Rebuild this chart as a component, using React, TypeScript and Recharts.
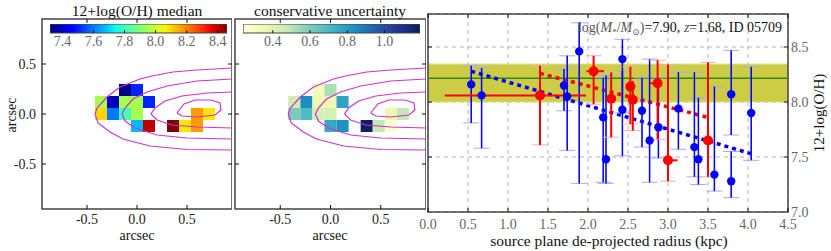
import React from "react";
import {
  ComposedChart,
  XAxis,
  YAxis,
  Scatter,
  ErrorBar,
  ReferenceArea,
  ReferenceLine,
  CartesianGrid,
} from "recharts";

const FONT = '"Liberation Serif", "DejaVu Serif", serif';

// source-plane pixels (cell centres, arcsec)
const cellX = [-0.12, 0.0, -0.36, -0.24, -0.12, 0.0, 0.12, -0.36, -0.24, -0.12, 0.0, 0.6, 0.72, 0.0, 0.12, 0.36, 0.48, 0.6];
const cellY = [0.24, 0.24, 0.12, 0.12, 0.12, 0.12, 0.12, 0, 0, 0, 0, 0, 0, -0.12, -0.12, -0.12, -0.12, -0.12];
const medianOH = [7.33, 7.5, 7.95, 7.38, 7.95, 7.95, 7.5, 8.1, 7.6, 7.81, 7.95, 8.17, 8.08, 7.67, 8.4, 8.46, 8.08, 8.17];
const uncertainty = [0.33, 0.52, 0.45, 0.84, 0.36, 0.35, 0.77, 0.6, 0.69, 0.43, 0.43, 0.36, 0.48, 0.76, 0.83, 1.17, 0.48, 0.27];
const cellSize = 0.12;

// continuum contours (arcsec)
const contour1X = [0.4, 0.47, 0.58, 0.74, 0.83, 0.84, 0.78, 0.6, 0.45, 0.4];
const contour1Y = [0.01, 0.1, 0.14, 0.14, 0.11, 0.04, -0.01, -0.03, -0.02, 0.01];
const contour2X = [0.95, 0.7, 0.45, 0.28, 0.18, 0.14, 0.2, 0.35, 0.6, 0.95];
const contour2Y = [0.22, 0.21, 0.18, 0.13, 0.06, 0.0, -0.06, -0.11, -0.13, -0.14];
const contour3X = [0.95, 0.6, 0.3, 0.1, -0.04, -0.12, -0.15, -0.12, -0.02, 0.2, 0.5, 0.95];
const contour3Y = [0.35, 0.33, 0.28, 0.22, 0.15, 0.06, 0.0, -0.07, -0.14, -0.21, -0.24, -0.25];
const contour4X = [0.95, 0.6, 0.36, 0.15, 0.03, -0.17, -0.3, -0.4, -0.42, -0.39, -0.27, -0.14, 0.13, 0.5, 0.95];
const contour4Y = [0.46, 0.44, 0.42, 0.38, 0.35, 0.27, 0.17, 0.06, 0.0, -0.09, -0.18, -0.25, -0.32, -0.355, -0.36];

const mapDomain = [-0.95, 0.95];
const mapTicks = [-0.5, 0, 0.5];
const ohBarTicks = [7.4, 7.6, 7.8, 8.0, 8.2, 8.4];
const uncBarTicks = [0.4, 0.6, 0.8, 1.0];
const ohRange = [7.32, 8.46];
const uncRange = [0.24, 1.19];

// radial gradient panel
const blueRadius = [0.54, 0.67, 1.7, 1.74, 1.89, 2.19, 2.225, 2.43, 2.43, 2.675, 2.77, 2.88, 3.13, 3.33, 3.38, 3.58, 3.79, 3.79, 4.04];
const blueOH = [8.16, 8.06, 8.15, 8.05, 8.46, 7.86, 7.48, 8.39, 7.93, 7.92, 7.65, 7.77, 7.94, 7.59, 7.48, 7.34, 8.07, 7.28, 7.9];
const blueOHLow = [7.81, 7.58, 7.92, 7.56, 7.26, 7.27, 7.26, 7.9, 7.51, 7.59, 7.27, 7.49, 7.57, 7.32, 7.25, 7.19, 7.7, 7.13, 7.47];
const blueOHHigh = [8.33, 8.31, 8.3, 8.42, 8.72, 8.22, 8.24, 8.57, 8.28, 8.22, 8.39, 8.22, 8.27, 8.27, 8.04, 8.14, 8.47, 7.55, 8.32];

const redRadius = [1.4, 2.07, 2.29, 2.53, 2.56, 2.87, 3.0, 3.5];
const redOH = [8.06, 8.28, 8.03, 8.14, 8.02, 8.17, 7.47, 7.65];
const redOHLow = [7.61, 7.98, 7.68, 7.8, 7.74, 7.66, 7.28, 7.32];
const redOHHigh = [8.33, 8.42, 8.27, 8.32, 8.19, 8.38, 8.34, 8.36];
const redRadiusLow = [0.21, 1.98, 2.29, 2.53, 2.56, 2.775, 2.94, 3.5];
const redRadiusHigh = [1.975, 2.2, 2.29, 2.53, 2.56, 2.87, 3.12, 3.5];

const blueFitR = [0.54, 4.04];
const blueFitOH = [8.28, 7.53];
const redFitR = [1.4, 3.5];
const redFitOH = [8.26, 7.86];

const integratedOH = 8.215;
const integratedLow = 8.0;
const integratedHigh = 8.345;

const radiusDomain = [0, 4.5];
const ohDomain = [7.0, 8.8];
const radiusTicks = [0, 0.5, 1, 1.5, 2, 2.5, 3, 3.5, 4, 4.5];
const ohTicks = [7.0, 7.5, 8.0, 8.5];

// colormaps
type Seg = [number, number][];
const jetR: Seg = [[0, 0], [0.35, 0], [0.66, 1], [0.89, 1], [1, 0.5]];
const jetG: Seg = [[0, 0], [0.125, 0], [0.375, 1], [0.64, 1], [0.91, 0], [1, 0]];
const jetB: Seg = [[0, 0.5], [0.11, 1], [0.34, 1], [0.65, 0], [1, 0]];

function seg(s: Seg, t: number) {
  for (let i = 1; i < s.length; i++) {
    if (t <= s[i][0]) {
      const f = (t - s[i - 1][0]) / (s[i][0] - s[i - 1][0]);
      return s[i - 1][1] + f * (s[i][1] - s[i - 1][1]);
    }
  }
  return s[s.length - 1][1];
}

function jet(t: number) {
  t = Math.max(0, Math.min(1, t));
  const c = [jetR, jetG, jetB].map((s) => Math.round(seg(s, t) * 255));
  return `rgb(${c[0]},${c[1]},${c[2]})`;
}

const ylgnbuHex = ["#ffffd9", "#edf8b1", "#c7e9b4", "#7fcdbb", "#41b6c4", "#1d91c0", "#225ea8", "#253494", "#081d58"];
function ylgnbu(t: number) {
  t = Math.max(0, Math.min(1, t));
  const p = t * (ylgnbuHex.length - 1);
  const i = Math.min(Math.floor(p), ylgnbuHex.length - 2);
  const f = p - i;
  const a = ylgnbuHex[i];
  const b = ylgnbuHex[i + 1];
  const ch = (h: string, k: number) => parseInt(h.slice(1 + 2 * k, 3 + 2 * k), 16);
  const c = [0, 1, 2].map((k) => Math.round(ch(a, k) + f * (ch(b, k) - ch(a, k))));
  return `rgb(${c[0]},${c[1]},${c[2]})`;
}

const gradSteps = Array.from({ length: 33 }, (_, i) => i / 32);

const contours = [
  [contour1X, contour1Y],
  [contour2X, contour2Y],
  [contour3X, contour3Y],
  [contour4X, contour4Y],
].map(([xs, ys]) => xs.map((x, i) => ({ x, y: ys[i] })));

const darkTick = { fill: "#222", fontSize: 14, fontFamily: FONT };
const grayTick = { fill: "#666", fontSize: 14, fontFamily: FONT };
const FRAME = "#444";

// box + inward tick marks, drawn through the chart scales
function frameMarks(
  xd: number[],
  yd: number[],
  xt: number[],
  yt: number[],
  xLen: number,
  yLen: number
) {
  const out: React.ReactNode[] = [];
  xt.forEach((t, i) => {
    out.push(
      <ReferenceLine key={`xb${i}`} segment={[{ x: t, y: yd[0] }, { x: t, y: yd[0] + yLen }]} stroke="#111" strokeWidth={1} ifOverflow="visible" />,
      <ReferenceLine key={`xt${i}`} segment={[{ x: t, y: yd[1] }, { x: t, y: yd[1] - yLen }]} stroke="#111" strokeWidth={1} ifOverflow="visible" />
    );
  });
  yt.forEach((t, i) => {
    out.push(
      <ReferenceLine key={`yl${i}`} segment={[{ x: xd[0], y: t }, { x: xd[0] + xLen, y: t }]} stroke="#111" strokeWidth={1} ifOverflow="visible" />,
      <ReferenceLine key={`yr${i}`} segment={[{ x: xd[1], y: t }, { x: xd[1] - xLen, y: t }]} stroke="#111" strokeWidth={1} ifOverflow="visible" />
    );
  });
  out.push(
    <ReferenceArea
      key="box"
      x1={xd[0]}
      x2={xd[1]}
      y1={yd[0]}
      y2={yd[1]}
      fill="none"
      stroke={FRAME}
      strokeWidth={1.5}
      ifOverflow="visible"
    />
  );
  return out;
}

function Txt({
  x,
  y,
  children,
  size = 14,
  rotate = 0,
  align = "center",
  color = "#111",
}: {
  x: number;
  y: number;
  children: React.ReactNode;
  size?: number;
  rotate?: number;
  align?: "center" | "right";
  color?: string;
}) {
  const tx = align === "right" ? "-100%" : "-50%";
  return (
    <div
      style={{
        position: "absolute",
        left: x,
        top: y,
        transform: `translate(${tx}, -50%) rotate(${rotate}deg)`,
        fontSize: size,
        fontFamily: FONT,
        color,
        whiteSpace: "nowrap",
        lineHeight: 1,
      }}
    >
      {children}
    </div>
  );
}

function MapPanel({
  left,
  width,
  showY,
  values,
  range,
  cmap,
}: {
  left: number;
  width: number;
  showY: boolean;
  values: number[];
  range: number[];
  cmap: (t: number) => string;
}) {
  const half = cellSize / 2;
  return (
    <div style={{ position: "absolute", left, top: 0 }}>
      <ComposedChart width={width} height={251} margin={{ top: 19, right: 0, bottom: 0, left: 0 }}>
        <XAxis
          dataKey="x"
          type="number"
          domain={mapDomain}
          allowDataOverflow
          ticks={mapTicks}
          tickFormatter={(v) => v.toFixed(1)}
          height={42}
          tickSize={0}
          tickMargin={5}
          axisLine={false}
          tickLine={false}
          tick={darkTick}
        />
        <YAxis
          dataKey="y"
          type="number"
          domain={mapDomain}
          allowDataOverflow
          ticks={mapTicks}
          tickFormatter={(v) => v.toFixed(1)}
          width={showY ? 42 : 1}
          tickSize={0}
          tickMargin={6}
          axisLine={false}
          tickLine={false}
          tick={showY ? darkTick : false}
        />
        {cellX.map((x, i) => (
          <ReferenceArea
            key={i}
            x1={x - half}
            x2={x + half}
            y1={cellY[i] - half}
            y2={cellY[i] + half}
            fill={cmap((values[i] - range[0]) / (range[1] - range[0]))}
            fillOpacity={1}
            stroke="none"
          />
        ))}
        {contours.map((pts, i) => (
          <Scatter
            key={i}
            data={pts}
            line={{ stroke: "#cc33cc", strokeWidth: 1.2 }}
            lineType="joint"
            shape={() => <g />}
            isAnimationActive={false}
          />
        ))}
        {frameMarks(mapDomain, mapDomain, mapTicks, mapTicks, 0.04, 0.04)}
      </ComposedChart>
    </div>
  );
}

function ColorBar({
  left,
  id,
  range,
  ticks,
  cmap,
}: {
  left: number;
  id: string;
  range: number[];
  ticks: number[];
  cmap: (t: number) => string;
}) {
  const tickPts = ticks.map((v) => ({ v, y: 0 }));
  return (
    <div style={{ position: "absolute", left, top: 24 }}>
      <ComposedChart width={177} height={30} margin={{ top: 0, right: 0, bottom: 0, left: 0 }}>
        <defs>
          <linearGradient id={id} x1="0" y1="0" x2="1" y2="0">
            {gradSteps.map((t) => (
              <stop key={t} offset={`${t * 100}%`} stopColor={cmap(t)} />
            ))}
          </linearGradient>
        </defs>
        <XAxis
          type="number"
          dataKey="v"
          domain={range}
          allowDataOverflow
          ticks={ticks}
          tickFormatter={(v) => v.toFixed(1)}
          height={21}
          tickSize={0}
          tickMargin={3}
          axisLine={false}
          tickLine={false}
          tick={grayTick}
        />
        <YAxis type="number" dataKey="y" domain={[0, 1]} allowDataOverflow hide />
        <ReferenceArea
          x1={range[0]}
          x2={range[1]}
          y1={0}
          y2={1}
          fill={`url(#${id})`}
          fillOpacity={1}
          stroke="#444"
          strokeWidth={1.2}
          ifOverflow="visible"
        />
        {ticks.map((t) => (
          <ReferenceLine key={t} segment={[{ x: t, y: 0 }, { x: t, y: 0.3 }]} stroke="#111" ifOverflow="visible" />
        ))}
        <Scatter data={tickPts} shape={() => <g />} isAnimationActive={false} />
      </ComposedChart>
    </div>
  );
}

const blueData = blueRadius.map((r, i) => ({
  r,
  oh: blueOH[i],
  ohErr: [blueOH[i] - blueOHLow[i], blueOHHigh[i] - blueOH[i]],
}));

const redData = redRadius.map((r, i) => ({
  r,
  oh: redOH[i],
  ohErr: [redOH[i] - redOHLow[i], redOHHigh[i] - redOH[i]],
  rErr: [r - redRadiusLow[i], redRadiusHigh[i] - r],
}));

function GradientPanel() {
  return (
    <div style={{ position: "absolute", left: 412, top: 0 }}>
      <ComposedChart width={419} height={251} margin={{ top: 14, right: 0, bottom: 0, left: 16 }}>
        <CartesianGrid stroke="#b5b5b5" strokeDasharray="4 4" />
        <XAxis
          dataKey="r"
          type="number"
          domain={radiusDomain}
          allowDataOverflow
          ticks={radiusTicks}
          interval={0}
          tickFormatter={(v) => v.toFixed(1)}
          height={39}
          tickSize={0}
          tickMargin={7}
          axisLine={false}
          tickLine={false}
          tick={grayTick}
        />
        <YAxis
          orientation="right"
          dataKey="oh"
          type="number"
          domain={ohDomain}
          allowDataOverflow
          ticks={ohTicks}
          interval={0}
          tickFormatter={(v) => v.toFixed(1)}
          width={43}
          tickSize={0}
          tickMargin={3}
          axisLine={false}
          tickLine={false}
          tick={grayTick}
        />
        <ReferenceArea
          y1={integratedLow}
          y2={integratedHigh}
          fill="#cdcd45"
          fillOpacity={1}
          stroke="#dede90"
          strokeWidth={1}
        />
        <ReferenceLine y={integratedOH} stroke="#2f8a10" strokeWidth={1.5} />
        <ReferenceLine
          segment={[
            { x: blueFitR[0], y: blueFitOH[0] },
            { x: blueFitR[1], y: blueFitOH[1] },
          ]}
          stroke="#0000ff"
          strokeWidth={3.5}
          strokeDasharray="4 4"
        />
        <ReferenceLine
          segment={[
            { x: redFitR[0], y: redFitOH[0] },
            { x: redFitR[1], y: redFitOH[1] },
          ]}
          stroke="#ff0000"
          strokeWidth={3.5}
          strokeDasharray="4 4"
        />
        <Scatter
          data={blueData}
          isAnimationActive={false}
          shape={(p: any) => <circle cx={p.cx} cy={p.cy} r={4.2} fill="#0000ff" />}
        >
          <ErrorBar dataKey="ohErr" direction="y" width={8} stroke="#a9a9ff" strokeWidth={1} />
          <ErrorBar dataKey="ohErr" direction="y" width={0} stroke="#0000ff" strokeWidth={1.5} />
        </Scatter>
        <Scatter
          data={redData}
          isAnimationActive={false}
          shape={(p: any) => <circle cx={p.cx} cy={p.cy} r={5} fill="#ff0000" />}
        >
          <ErrorBar dataKey="ohErr" direction="y" width={8} stroke="#ffaaaa" strokeWidth={1} />
          <ErrorBar dataKey="ohErr" direction="y" width={0} stroke="#ff0000" strokeWidth={2} />
          <ErrorBar dataKey="rErr" direction="x" width={0} stroke="#ff0000" strokeWidth={2} />
        </Scatter>
        {frameMarks(radiusDomain, ohDomain, radiusTicks, ohTicks.slice(1), 0.05, 0.036)}
      </ComposedChart>
    </div>
  );
}

export default function App() {
  return (
    <div
      style={{
        position: "absolute",
        left: 0,
        top: 0,
        width: 831,
        height: 251,
        background: "#fff",
        overflow: "hidden",
        fontFamily: FONT,
      }}
    >
      <MapPanel left={0} width={232} showY values={medianOH} range={ohRange} cmap={jet} />
      <MapPanel left={234} width={192} showY={false} values={uncertainty} range={uncRange} cmap={ylgnbu} />
      <ColorBar left={50} id="jetBar" range={ohRange} ticks={ohBarTicks} cmap={jet} />
      <ColorBar left={243} id="ylgnbuBar" range={uncRange} ticks={uncBarTicks} cmap={ylgnbu} />
      <GradientPanel />

      <Txt x={137} y={11} size={15.5}>12+log(O/H) median</Txt>
      <Txt x={330} y={11} size={15.5}>conservative uncertainty</Txt>
      <Txt x={137} y={236}>arcsec</Txt>
      <Txt x={330} y={236}>arcsec</Txt>
      <Txt x={12} y={115} rotate={-90}>arcsec</Txt>
      <Txt x={609} y={241} size={15.5}>source plane de-projected radius (kpc)</Txt>
      <Txt x={819} y={113} rotate={-90} size={15}>12+log(O/H)</Txt>
      <Txt x={782} y={29} align="right" size={14}>
        <span style={{ color: "#555" }}>
          log(<i>M</i>
          <sub style={{ fontSize: 9 }}>*</sub>/<i>M</i>
          <sub style={{ fontSize: 9 }}>⊙</sub>)
        </span>
        =7.90, <i style={{ color: "#555" }}>z</i>=1.68, ID 05709
      </Txt>
    </div>
  );
}
